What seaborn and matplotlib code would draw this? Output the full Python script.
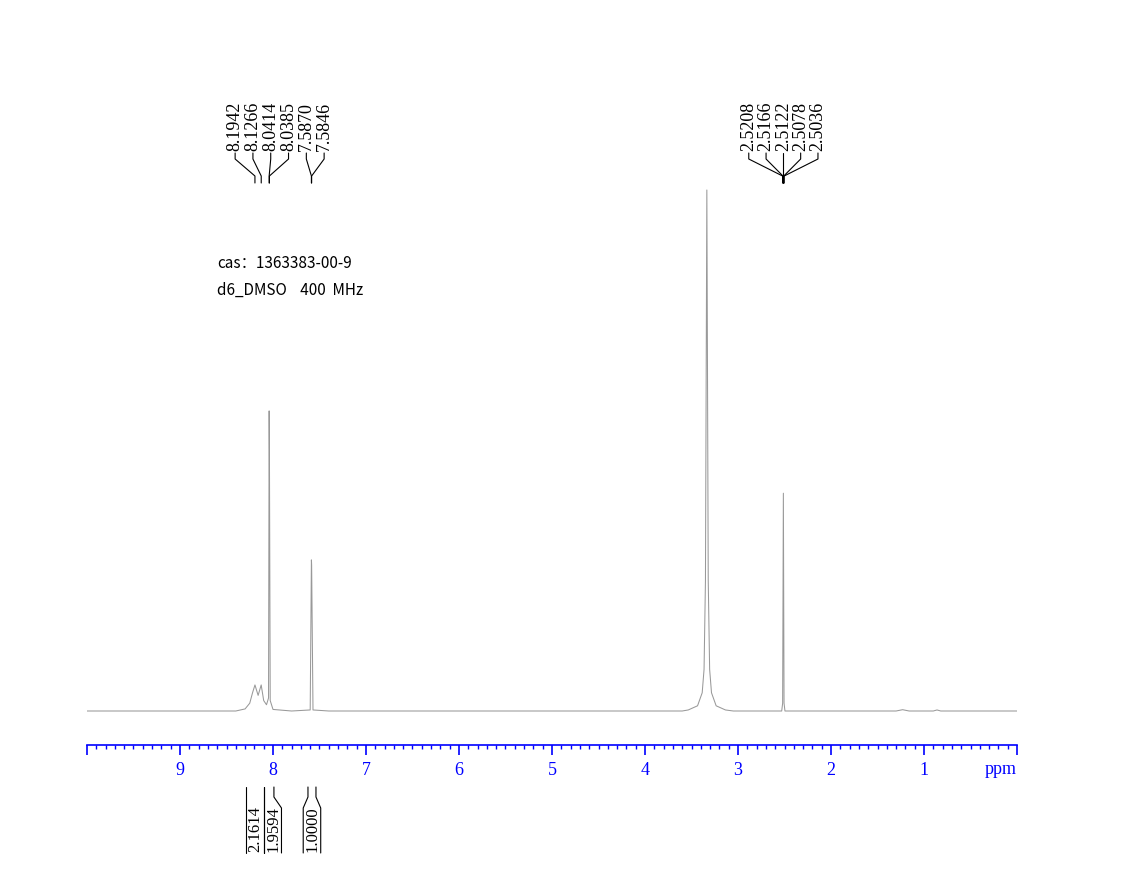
import numpy as np
import matplotlib
matplotlib.use('Agg')
import matplotlib.pyplot as plt
import matplotlib.ticker as ticker
import seaborn as sns

# spectrum trace (ppm, intensity; solvent water peak = 100)
ppm = [10.0, 8.40, 8.30, 8.25, 8.22, 8.194, 8.16, 8.127, 8.10, 8.07, 8.048,
       8.0414, 8.0385, 8.030, 8.00, 7.80, 7.60, 7.587, 7.5846, 7.57, 7.40,
       3.60, 3.535, 3.435, 3.385, 3.365, 3.35, 3.335, 3.32, 3.305, 3.285,
       3.235, 3.135, 3.05,
       2.60, 2.53, 2.52, 2.5122, 2.505, 2.495, 2.45,
       1.30, 1.23, 1.16, 0.90, 0.86, 0.82, 0.0]
intensity = [0, 0, 0.4, 1.5, 3.5, 5.0, 3.0, 5.0, 2.0, 1.2, 2.5,
             57.6, 50.0, 2.0, 0.3, 0, 0.2, 29.0, 28.0, 0.2, 0,
             0, 0.2, 1.0, 3.5, 8.0, 25.0, 100.0, 25.0, 8.0, 3.5,
             1.0, 0.2, 0,
             0, 0, 1.5, 41.8, 1.5, 0, 0,
             0, 0.25, 0, 0, 0.2, 0, 0]

left_peaks = [8.1942, 8.1266, 8.0414, 8.0385, 7.5870, 7.5846]
right_peaks = [2.5208, 2.5166, 2.5122, 2.5078, 2.5036]

integral_values = ['2.1614', '1.9594', '1.0000']
integral_lo = [8.097, 7.990, 7.538]
integral_hi = [8.290, 8.097, 7.624]

info_lines = ['cas：1363383-00-9', 'd6_DMSO    400  MHz']

W, H = 1144, 893
fig = plt.figure(figsize=(W / 100, H / 100), dpi=100)
sns.set_style('white')
plt.rcParams['font.family'] = ['Liberation Serif', 'DejaVu Serif']

# axes placed in pixels: x from 87 to 1017, spine at y=745, top at y=180
ax_l, ax_r, ax_b, ax_t = 87, 1017, 745, 180
ax = fig.add_axes([ax_l / W, (H - ax_b) / H, (ax_r - ax_l) / W, (ax_b - ax_t) / H])

sns.lineplot(x=ppm, y=intensity, ax=ax, sort=False, estimator=None,
             color='#999999', linewidth=0.75)

# baseline at y=711 px, 100 units = 521 px
ppx = 521 / 100.0
ax.set_xlim(10, 0)
ax.set_ylim(-(ax_b - 711) / ppx, (711 - ax_t) / ppx)

for s in ['left', 'top', 'right']:
    ax.spines[s].set_visible(False)
ax.spines['bottom'].set_color('blue')
ax.spines['bottom'].set_linewidth(1.2)
ax.set_yticks([])
ax.xaxis.set_major_locator(ticker.MultipleLocator(1))
ax.xaxis.set_minor_locator(ticker.MultipleLocator(0.1))
ax.xaxis.set_major_formatter(ticker.FuncFormatter(
    lambda v, p: '' if round(v) in (0, 10) else '%d' % round(v)))
ax.tick_params(axis='x', which='both', bottom=True)
ax.tick_params(axis='x', which='major', direction='out', length=7.5, width=1.2,
               color='blue', labelcolor='blue', labelsize=13, pad=5)
ax.tick_params(axis='x', which='minor', direction='out', length=3, width=1,
               color='blue')
ax.set_xlabel('')
ax.text(0, -(769 - ax_b) / (ax_b - ax_t), 'ppm', transform=ax.get_xaxis_transform(),
        ha='right', va='center', color='blue', fontsize=13)


def data_x_to_px(v):
    return ax_l + (10 - v) / 10.0 * (ax_r - ax_l)


def px_to_fig(x, y):
    return x / W, (H - y) / H


def fig_line(xs, ys, **kw):
    fx = [x / W for x in xs]
    fy = [(H - y) / H for y in ys]
    fig.add_artist(plt.Line2D(fx, fy, color='black', linewidth=0.8, **kw))


def peak_labels(peaks, spacing):
    centre = np.mean([data_x_to_px(p) for p in peaks])
    n = len(peaks)
    for i, p in enumerate(peaks):
        xl = centre + (i - (n - 1) / 2.0) * spacing
        xp = data_x_to_px(p)
        fig_line([xl, xl, xp, xp], [153, 159, 176, 183])
        fx, fy = px_to_fig(xl, 151)
        fig.text(fx, fy, '%.4f' % p, rotation=90, ha='center', va='bottom',
                 fontsize=13, color='black')


peak_labels(left_peaks, 17.8)
peak_labels(right_peaks, 17.3)

# integral brackets under the axis
prev_right = 0
for val, lo, hi in zip(integral_values, integral_lo, integral_hi):
    x1, x2 = data_x_to_px(hi), data_x_to_px(lo)
    c = (x1 + x2) / 2
    half = max((x2 - x1) / 2, 8.75)
    b1 = max(c - half, prev_right)
    b2 = max(c + half, b1 + 17.5)
    prev_right = b2
    fig_line([x1, x1, b1, b1], [787, 797, 808, 853])
    fig_line([x2, x2, b2, b2], [787, 797, 808, 853])
    fx, fy = px_to_fig((b1 + b2) / 2 + 0.5, 852)
    fig.text(fx, fy, val, rotation=90, ha='center', va='bottom',
             fontsize=12, color='black')

for i, t in enumerate(info_lines):
    fx, fy = px_to_fig(217, 264 + i * 26)
    fig.text(fx, fy, t, ha='left', va='center', fontsize=11, color='black',
             family=['Noto Sans CJK SC', 'DejaVu Sans'])

fig.savefig('out.png', dpi=100)
